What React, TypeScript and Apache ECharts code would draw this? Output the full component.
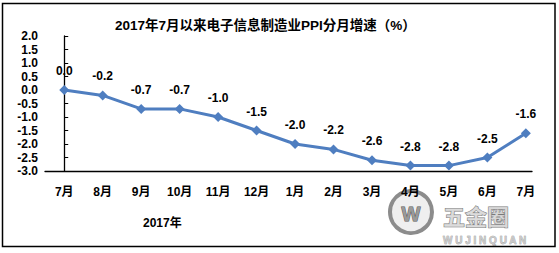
import React, { useEffect, useRef } from "react";
import * as echarts from "echarts";

// Month labels along the x axis (Jul 2017 – Jul 2018)
const months = ["7月", "8月", "9月", "10月", "11月", "12月", "1月", "2月", "3月", "4月", "5月", "6月", "7月"];
// Month-on-month PPI growth of electronic information manufacturing (%)
const ppiGrowth = [0.0, -0.2, -0.7, -0.7, -1.0, -1.5, -2.0, -2.2, -2.6, -2.8, -2.8, -2.5, -1.6];
const yearLabel = "2017年";
const titleText = "2017年7月以来电子信息制造业PPI分月增速（%）";

const FONT = "'Liberation Sans', Arial, 'Noto Sans CJK SC', sans-serif";
const LINE_BLUE = "#4F7EC0";

export default function App() {
  const ref = useRef<HTMLDivElement>(null);

  useEffect(() => {
    if (!ref.current) return;
    const chart = echarts.init(ref.current, undefined, { renderer: "svg" });
    const points = ppiGrowth.map((v, i) => [i, v]);

    chart.setOption({
      animation: false,
      backgroundColor: "#ffffff",
      title: {
        text: titleText,
        left: 110,
        top: 14,
        textStyle: { fontFamily: FONT, fontSize: 13.5, fontWeight: "bold", color: "#000" },
      },
      grid: { left: 45, top: 36, width: 487, height: 135 },
      xAxis: {
        type: "value",
        min: -0.5,
        max: 12.16,
        splitLine: { show: false },
        axisLine: { show: true, onZero: false, lineStyle: { color: "#000", width: 1.3 } },
        axisTick: { show: false },
        axisLabel: {
          customValues: months.map((_, i) => i),
          formatter: (v: number) => months[Math.round(v)] ?? "",
          margin: 15,
          fontFamily: FONT,
          fontSize: 12,
          fontWeight: "bold",
          color: "#000",
        },
      },
      yAxis: {
        type: "value",
        min: -3,
        max: 2,
        interval: 0.5,
        splitLine: { show: false },
        axisLine: { show: true, lineStyle: { color: "#000", width: 1.3 } },
        axisTick: { show: true, inside: true, length: 4, lineStyle: { color: "#000" } },
        axisLabel: {
          formatter: (v: number) => v.toFixed(1),
          margin: 7,
          fontFamily: FONT,
          fontSize: 12,
          fontWeight: "bold",
          color: "#000",
        },
      },
      series: [
        {
          type: "line",
          data: points,
          symbol: "diamond",
          symbolSize: 10,
          lineStyle: { color: LINE_BLUE, width: 3 },
          itemStyle: { color: LINE_BLUE },
          label: {
            show: true,
            position: "top",
            distance: 8,
            formatter: (p: any) => Number(p.value[1]).toFixed(1),
            fontFamily: FONT,
            fontSize: 12,
            fontWeight: "bold",
            color: "#000",
          },
        },
      ],
      graphic: [
        {
          type: "rect",
          shape: { x: 2.5, y: 3.5, width: 552.5, height: 243 },
          style: { fill: "none", stroke: "#000", lineWidth: 1.5 },
          silent: true,
          z: 10,
        },
        {
          type: "text",
          left: 143,
          top: 217,
          style: { text: yearLabel, fontFamily: FONT, fontSize: 12, fontWeight: "bold", fill: "#000" },
        },
        {
          // watermark badge in the lower-right corner
          type: "group",
          left: 388,
          top: 189,
          silent: true,
          z: 20,
          children: [
            {
              type: "circle",
              shape: { cx: 23, cy: 22, r: 21 },
              style: { fill: "rgba(225,225,225,0.55)", stroke: "#8c8c8c", lineWidth: 4 },
            },
            {
              type: "text",
              x: 23,
              y: 24,
              style: {
                text: "W",
                fontFamily: FONT,
                fontSize: 20,
                fontWeight: "bold",
                fill: "#9a9a9a",
                stroke: "#555",
                lineWidth: 1,
                align: "center",
                verticalAlign: "middle",
              },
            },
            {
              type: "text",
              x: 55,
              y: 14,
              style: {
                text: "五金圈",
                fontFamily: "'Noto Sans CJK SC', sans-serif",
                fontSize: 22,
                fontWeight: "bold",
                fill: "rgba(215,215,215,0.9)",
                stroke: "#7a7a7a",
                lineWidth: 1,
              },
            },
            {
              type: "text",
              x: 55,
              y: 45,
              style: {
                text: "W U J I N Q U A N",
                fontFamily: FONT,
                fontSize: 10,
                fontWeight: "bold",
                fill: "#c8c8c8",
                stroke: "#888",
                lineWidth: 0.5,
              },
            },
          ],
        },
      ],
    });

    return () => chart.dispose();
  }, []);

  return (
    <div
      ref={ref}
      style={{ position: "absolute", left: 0, top: 0, width: 559, height: 253 }}
    />
  );
}
